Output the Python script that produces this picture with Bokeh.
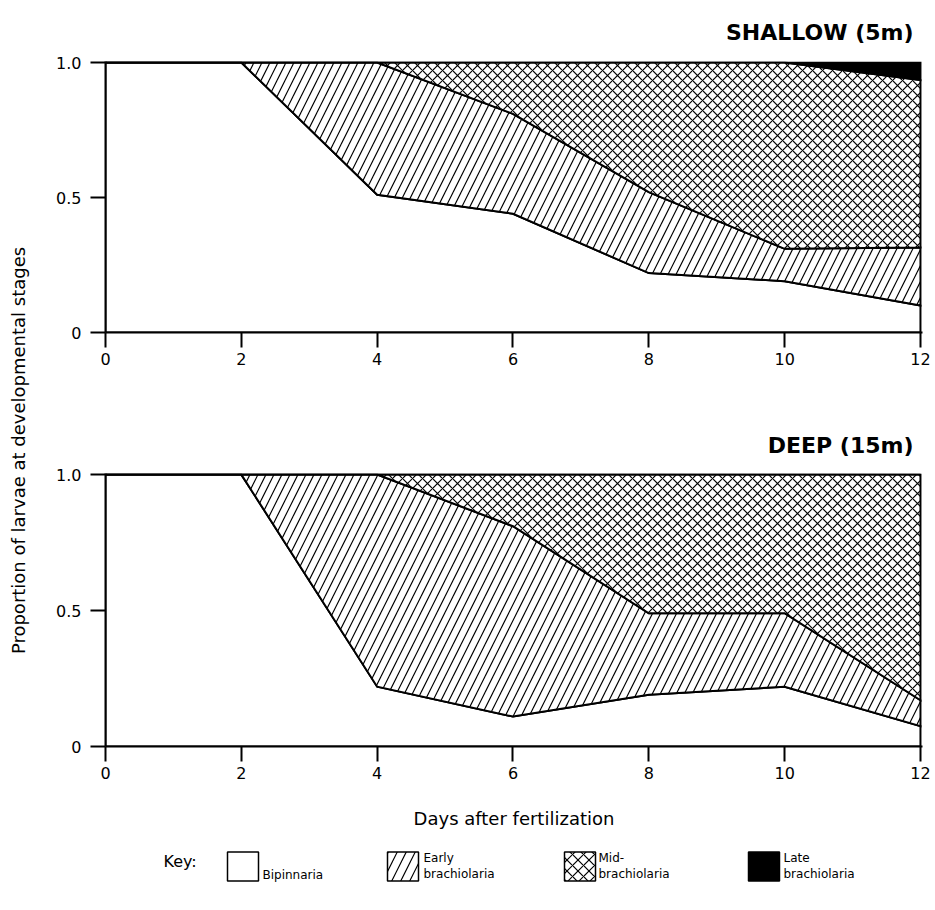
import numpy as np
from math import pi
from bokeh.plotting import figure
from bokeh.layouts import column, row
from bokeh.models import Range1d, FixedTicker, CustomJSTickFormatter, Label
from bokeh.core.properties import value
from bokeh.embed import file_html
from bokeh.resources import INLINE

# ---------------- data ----------------
days = [0, 2, 4, 6, 8, 10, 12]

shallow_bipinnaria = [1.00, 1.00, 0.51, 0.44, 0.22, 0.19, 0.10]
shallow_early = [0.00, 0.00, 0.49, 0.37, 0.30, 0.12, 0.215]
shallow_mid = [0.00, 0.00, 0.00, 0.19, 0.48, 0.69, 0.62]
shallow_late = [0.00, 0.00, 0.00, 0.00, 0.00, 0.00, 0.065]

deep_bipinnaria = [1.00, 1.00, 0.22, 0.11, 0.19, 0.22, 0.075]
deep_early = [0.00, 0.00, 0.78, 0.70, 0.30, 0.27, 0.095]
deep_mid = [0.00, 0.00, 0.00, 0.19, 0.51, 0.51, 0.83]
deep_late = [0.00, 0.00, 0.00, 0.00, 0.00, 0.00, 0.00]

y_ticks = [0, 0.5, 1.0]
x_ticks = days
panel_titles = ["SHALLOW (5m)", "DEEP (15m)"]
x_label = "Days after fertilization"
y_label = "Proportion of larvae at developmental stages"
key_label = "Key:"
legend_labels = ["Bipinnaria", "Early\nbrachiolaria", "Mid-\nbrachiolaria", "Late\nbrachiolaria"]

# ---------------- styles ----------------
FONT = "DejaVu Sans"
stage_fill = ["white", "white", "white", "black"]
stage_hatch = [None, "/", "x", None]
stage_hatch_scale = [None, 16, 10, None]
key_hatch_scale = [None, 18, 11, None]
YL_W = 32
PANEL_W = 901
TOP_H, BOT_H = 388, 455


def make_panel(title, series, height, top, bottom, xlabel=None, title_standoff=34):
    p = figure(width=PANEL_W, height=height, x_range=Range1d(0, 12.03), y_range=Range1d(0, 1.004),
               output_backend="svg", toolbar_location=None,
               min_border_left=73, min_border_right=11, min_border_top=top, min_border_bottom=bottom,
               background_fill_color="white", border_fill_color="white", outline_line_color=None)
    p.grid.visible = False
    x = np.array(days, dtype=float)
    lower = np.zeros(len(days))
    for i, vals in enumerate(series):
        upper = lower + np.array(vals, dtype=float)
        xs = np.concatenate([x, x[::-1]])
        ys = np.concatenate([upper, lower[::-1]])
        kw = dict(fill_color=stage_fill[i], line_color="black", line_width=2, line_join="miter")
        if stage_hatch[i]:
            kw.update(hatch_pattern=stage_hatch[i], hatch_scale=stage_hatch_scale[i],
                      hatch_weight=1.2, hatch_color="black")
        p.patch(xs, ys, **kw)
        lower = upper

    p.title.text = title
    p.title.align = "right"
    p.title.text_font = FONT
    p.title.text_font_size = "22px"
    p.title.text_font_style = "bold"
    p.title.text_color = "black"
    p.title.offset = 9
    p.title.standoff = title_standoff

    for ax in (p.xaxis[0], p.yaxis[0]):
        ax.axis_line_width = 2
        ax.major_tick_line_width = 2
        ax.major_tick_in = 0
        ax.major_tick_out = 15
        ax.minor_tick_line_color = None
        ax.major_label_text_font = FONT
        ax.major_label_text_font_size = "16px"
        ax.major_label_text_color = "black"
    p.xaxis.ticker = FixedTicker(ticks=x_ticks)
    p.xaxis.major_label_standoff = 5
    p.yaxis.ticker = FixedTicker(ticks=y_ticks)
    p.yaxis.formatter = CustomJSTickFormatter(code="return tick == 0 ? '0' : tick.toFixed(1);")
    p.yaxis.major_label_standoff = 9
    if xlabel:
        p.xaxis.axis_label = xlabel
        p.xaxis.axis_label_text_font = FONT
        p.xaxis.axis_label_text_font_size = "18px"
        p.xaxis.axis_label_text_font_style = "normal"
        p.xaxis.axis_label_text_color = "black"
        p.xaxis.axis_label_standoff = 26
    return p


top = make_panel(panel_titles[0], [shallow_bipinnaria, shallow_early, shallow_mid, shallow_late],
                 TOP_H, 59, 56, title_standoff=34)
bottom = make_panel(panel_titles[1], [deep_bipinnaria, deep_early, deep_mid, deep_late],
                    BOT_H, 85, 97, xlabel=x_label, title_standoff=32)

# shared y label
YL_H = TOP_H + BOT_H
ylab = figure(width=YL_W, height=YL_H, x_range=Range1d(0, 1), y_range=Range1d(0, 1),
              output_backend="svg", toolbar_location=None, min_border=0,
              x_axis_type=None, y_axis_type=None, outline_line_color=None)
ylab.grid.visible = False
ylab.add_layout(Label(x=18, y=YL_H - 450, x_units="screen", y_units="screen", text=y_label,
                      angle=pi / 2, text_align="center", text_baseline="middle",
                      text_font=FONT, text_font_size="18px", text_color="black"))

# key
LG_W, LG_H = YL_W + PANEL_W, 60
key_box_x = [242.5, 402.5, 579.5, 763.5]
key_text_x = [262, 423, 598, 783]
lg = figure(width=LG_W, height=LG_H, x_range=Range1d(0, LG_W), y_range=Range1d(0, LG_H),
            output_backend="svg", toolbar_location=None, min_border=0,
            x_axis_type=None, y_axis_type=None, outline_line_color=None)
lg.grid.visible = False
lg.text(x=[163], y=[42], text=[key_label], text_font=value(FONT), text_font_size="16px",
        text_baseline="middle", text_align="left", text_color="black")
for i in range(4):
    kw = dict(fill_color=stage_fill[i], line_color="black", line_width=1.5)
    if stage_hatch[i]:
        kw.update(hatch_pattern=stage_hatch[i], hatch_scale=key_hatch_scale[i],
                  hatch_weight=1.2, hatch_color="black")
    lg.rect(x=[key_box_x[i]], y=[37], width=31, height=29, **kw)
    lg.text(x=[key_text_x[i]], y=[22], text=[legend_labels[i]], text_font=value(FONT),
            text_font_size="12px", text_baseline="bottom", text_align="left",
            text_color="black", text_line_height=1.15)

layout = column(row(ylab, column(top, bottom)), lg)
open("out.html", "w").write(file_html(layout, INLINE))
